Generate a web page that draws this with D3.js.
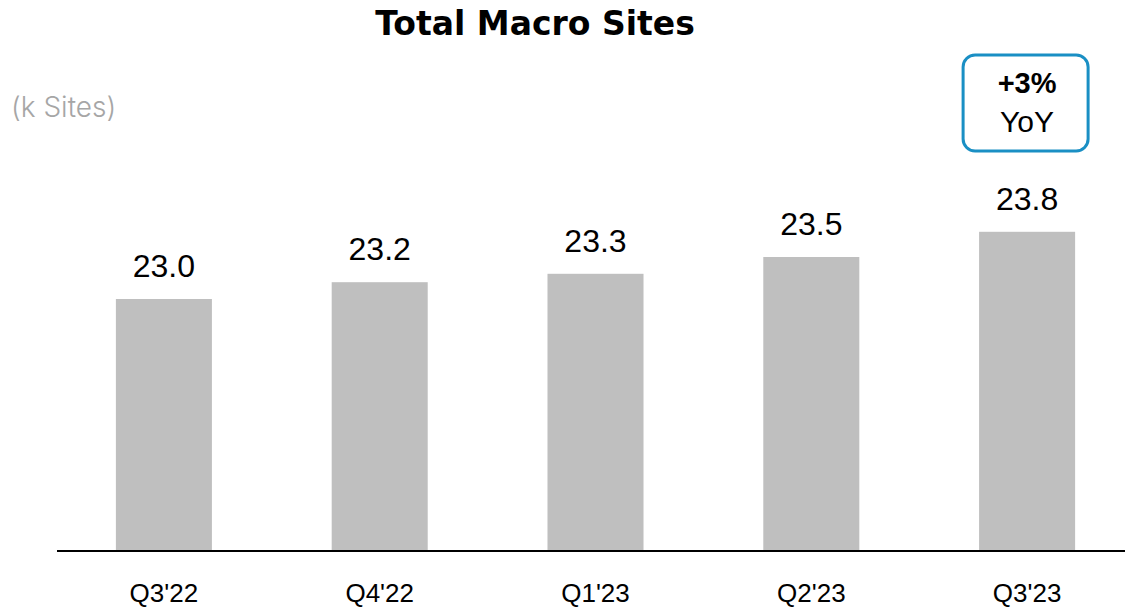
<!DOCTYPE html>
<html>
<head>
<meta charset="utf-8">
<script src="https://cdn.jsdelivr.net/npm/d3@7"></script>
<style>
  body { margin: 0; background: #fff; }
  svg { display: block; }
</style>
</head>
<body>
<div id="chart"></div>
<script>
var quarters = ["Q3'22", "Q4'22", "Q1'23", "Q2'23", "Q3'23"];
var sites = [23.0, 23.2, 23.3, 23.5, 23.8];
var valueLabels = ["23.0", "23.2", "23.3", "23.5", "23.8"];

var svgWidth = 1125;
var svgHeight = 610;
var baseY = 551;

var svg = d3.select("#chart")
  .append("svg")
  .attr("width", svgWidth)
  .attr("height", svgHeight);

var x = d3.scaleBand()
  .domain(quarters)
  .range([56, 1135])
  .paddingInner(0.555)
  .paddingOuter(0.2775);

// axis does not start at zero
var y = d3.scaleLinear()
  .domain([20, 24])
  .range([baseY, baseY - 4 * 84]);

// title
svg.append("text")
  .attr("x", 535)
  .attr("y", 35)
  .attr("text-anchor", "middle")
  .style("font-family", "'DejaVu Sans', sans-serif")
  .style("font-weight", "bold")
  .style("font-size", "33px")
  .attr("fill", "#000")
  .text("Total Macro Sites");

// unit label
svg.append("text")
  .attr("x", 11)
  .attr("y", 117)
  .style("font-family", "Inter, 'Noto Sans', sans-serif")
  .style("font-weight", 300)
  .style("font-size", "28px")
  .attr("fill", "#a6a6a6")
  .text("(k Sites)");

// bars
svg.append("g")
  .selectAll("rect")
  .data(sites)
  .enter()
  .append("rect")
  .attr("x", (d, i) => x(quarters[i]))
  .attr("y", d => y(d))
  .attr("width", x.bandwidth())
  .attr("height", d => baseY - y(d))
  .attr("fill", "#bfbfbf");

// value labels
svg.append("g")
  .selectAll("text")
  .data(sites)
  .enter()
  .append("text")
  .attr("x", (d, i) => x(quarters[i]) + x.bandwidth() / 2)
  .attr("y", d => y(d) - 22)
  .attr("text-anchor", "middle")
  .style("font-family", "'Liberation Sans', Arial, sans-serif")
  .style("font-size", "32px")
  .attr("fill", "#000")
  .text((d, i) => valueLabels[i]);

// x axis
var xAxis = svg.append("g")
  .attr("transform", `translate(0, ${baseY})`)
  .call(d3.axisBottom(x).tickSize(0).tickPadding(33));

xAxis.select(".domain")
  .attr("d", "M57,0H1125")
  .attr("stroke", "#000")
  .attr("stroke-width", 2);

xAxis.selectAll(".tick text")
  .style("font-family", "'Liberation Sans', Arial, sans-serif")
  .style("font-size", "26px")
  .attr("fill", "#000");

// YoY callout over last bar
var lastX = x(quarters[4]) + x.bandwidth() / 2;
svg.append("rect")
  .attr("x", lastX - 64)
  .attr("y", 55)
  .attr("width", 125)
  .attr("height", 96)
  .attr("rx", 12)
  .attr("fill", "#fff")
  .attr("stroke", "#1a8fc4")
  .attr("stroke-width", 3);

svg.append("text")
  .attr("x", lastX)
  .attr("y", 93)
  .attr("text-anchor", "middle")
  .style("font-family", "'Liberation Sans', Arial, sans-serif")
  .style("font-weight", "bold")
  .style("font-size", "29px")
  .attr("fill", "#000")
  .text("+3%");

svg.append("text")
  .attr("x", lastX)
  .attr("y", 132)
  .attr("text-anchor", "middle")
  .style("font-family", "'Liberation Sans', Arial, sans-serif")
  .style("font-size", "30px")
  .attr("fill", "#000")
  .text("YoY");
</script>
</body>
</html>
